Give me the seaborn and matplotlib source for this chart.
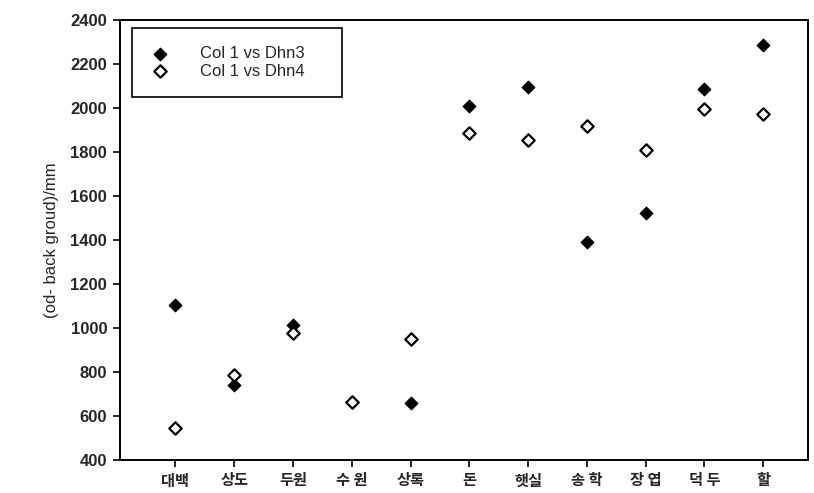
import pandas as pd
import matplotlib
matplotlib.use('Agg')
import matplotlib.pyplot as plt
import seaborn as sns

cultivars = ['대백', '상도', '두원', '수 원', '상록', '돈', '햇실', '송 학', '장 엽', '덕 두', '할']
dhn3 = [1105, 742, 1015, 662, 660, 2010, 2095, 1393, 1523, 2087, 2285]
dhn4 = [545, 785, 977, 665, 950, 1885, 1855, 1920, 1810, 1995, 1975]
yticks = [400, 600, 800, 1000, 1200, 1400, 1600, 1800, 2000, 2200, 2400]

df = pd.DataFrame({'cultivar': cultivars * 2,
                   'pos': list(range(len(cultivars))) * 2,
                   'value': dhn3 + dhn4,
                   'series': ['Col 1 vs Dhn3'] * len(cultivars) + ['Col 1 vs Dhn4'] * len(cultivars)})

sns.set_style('white')
plt.rcParams['font.family'] = ['Liberation Sans', 'Noto Sans CJK KR', 'DejaVu Sans']

fig = plt.figure(figsize=(8.14, 4.93), dpi=100)
ax = fig.add_axes([0.147, 0.067, 0.846, 0.892])

d3 = df[df['series'] == 'Col 1 vs Dhn3']
d4 = df[df['series'] == 'Col 1 vs Dhn4']
sns.scatterplot(data=d3, x='pos', y='value', marker='D', s=40, color='black',
                edgecolor='black', linewidth=1.0, label='Col 1 vs Dhn3', ax=ax, zorder=3)
sns.scatterplot(data=d4, x='pos', y='value', marker='D', s=40, facecolor='white',
                edgecolor='black', linewidth=1.6, label='Col 1 vs Dhn4', ax=ax, zorder=4)

ax.set_xlim(-0.95, 10.77)
ax.set_ylim(400, 2400)
ax.set_yticks(yticks)
ax.set_yticklabels([str(v) for v in yticks], fontsize=12, fontweight='bold')
ax.set_xticks(range(len(cultivars)))
ax.set_xticklabels(cultivars, fontsize=11, fontweight='bold',
                   family=['Noto Sans CJK KR', 'DejaVu Sans'])
ax.tick_params(axis='both', direction='out', length=5, width=1.2, color='black',
               bottom=True, left=True, pad=4)
ax.set_xlabel('')
ax.set_ylabel('(od- back groud)/mm', fontsize=12, labelpad=8)
for s in ax.spines.values():
    s.set_color('black')
    s.set_linewidth(1.4)

leg = ax.legend(loc='upper left', bbox_to_anchor=(0.018, 0.983), fontsize=12,
                frameon=True, fancybox=False, edgecolor='black', framealpha=1,
                borderpad=1.1, handlelength=1.2, handletextpad=1.8, labelspacing=0.15,
                borderaxespad=0)
leg.get_frame().set_linewidth(1.2)
for t in leg.get_texts():
    t.set_text(t.get_text() + '    ')

fig.savefig('out.png', dpi=100)
